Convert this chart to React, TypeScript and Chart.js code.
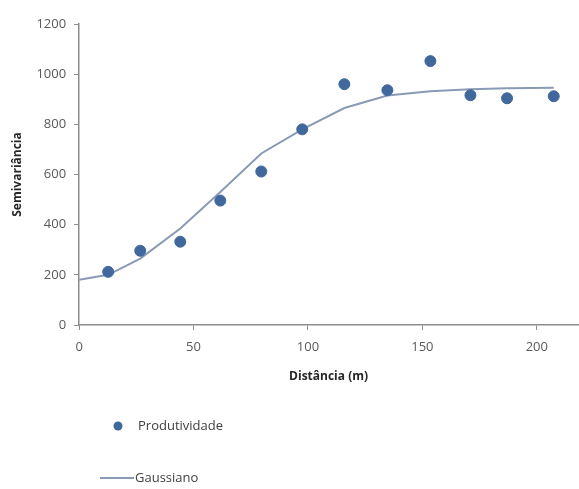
import React, { useEffect, useRef } from "react";
import { Chart, registerables } from "chart.js";

Chart.register(...registerables);

const distances = [12.7, 26.7, 44.2, 61.7, 79.6, 97.5, 115.9, 134.7, 153.5, 171, 187, 207.4];
const produtividade = [212, 296, 332, 496, 612, 780, 960, 936, 1052, 916, 904, 912];
const modelDistances = [0, 12.7, 26.7, 44.2, 61.7, 79.6, 97.5, 115.9, 134.7, 153.5, 171, 187, 207.4];
const gaussiano = [180, 200, 265, 385, 530, 684, 780, 865, 915, 932, 940, 944, 946];
const xTicks = [0, 50, 100, 150, 200];

const FONT = "'Open Sans', 'DejaVu Sans', sans-serif";
const MARKER = "#41689c";
const LINE = "#8a9ab5";

const legendPlugin = {
  id: "bottomLegend",
  afterDraw(chart: any) {
    const ctx = chart.ctx;
    const ds = chart.data.datasets;
    ctx.save();
    ctx.font = `13px ${FONT}`;
    ctx.textBaseline = "middle";
    ctx.beginPath();
    ctx.arc(118, 426, 4.5, 0, Math.PI * 2);
    ctx.fillStyle = ds[0].backgroundColor;
    ctx.fill();
    ctx.fillStyle = "#404040";
    ctx.fillText(ds[0].label, 138, 426);
    ctx.beginPath();
    ctx.moveTo(100, 478);
    ctx.lineTo(134, 478);
    ctx.strokeStyle = ds[1].borderColor;
    ctx.lineWidth = 2;
    ctx.stroke();
    ctx.fillText(ds[1].label, 135, 478);
    ctx.restore();
  },
};

export default function App() {
  const ref = useRef<HTMLCanvasElement>(null);
  useEffect(() => {
    document.body.style.margin = "0";
    const chart = new Chart(ref.current!, {
      type: "scatter",
      data: {
        datasets: [
          {
            label: "Produtividade",
            data: distances.map((x, i) => ({ x, y: produtividade[i] })),
            backgroundColor: MARKER,
            borderColor: MARKER,
            pointRadius: 5.5,
            showLine: false,
          },
          {
            label: "Gaussiano",
            data: modelDistances.map((x, i) => ({ x, y: gaussiano[i] })),
            borderColor: LINE,
            backgroundColor: LINE,
            borderWidth: 2,
            pointRadius: 0,
            showLine: true,
            tension: 0,
          },
        ],
      },
      options: {
        animation: false,
        responsive: false,
        layout: { autoPadding: false, padding: { left: 6, top: 24, right: 1, bottom: 101 } },
        plugins: { legend: { display: false }, tooltip: { enabled: false } },
        scales: {
          x: {
            type: "linear",
            min: 0,
            max: 218,
            afterBuildTicks: (axis: any) => {
              axis.ticks = xTicks.map((v) => ({ value: v }));
            },
            afterFit: (axis: any) => {
              axis.paddingRight = 0;
            },
            grid: { drawOnChartArea: false, drawTicks: true, tickLength: 5, color: "#8c8c8c" },
            border: { color: "#8c8c8c", width: 1.5 },
            ticks: { color: "#595959", font: { family: FONT, size: 13 }, padding: 9, maxRotation: 0 },
            title: {
              display: true,
              text: "Distância (m)",
              color: "#262626",
              font: { family: FONT, size: 12, weight: "bold" },
              padding: { top: 6 },
            },
          },
          y: {
            min: 0,
            max: 1200,
            ticks: {
              stepSize: 200,
              color: "#595959",
              font: { family: FONT, size: 13 },
              padding: 8,
              callback: (v: any) => String(v),
            },
            grid: { drawOnChartArea: false, drawTicks: true, tickLength: 5, color: "#8c8c8c" },
            border: { color: "#8c8c8c", width: 1.5 },
            title: {
              display: true,
              text: "Semivariância",
              color: "#262626",
              font: { family: FONT, size: 12, weight: "bold" },
              padding: { bottom: 4 },
            },
          },
        },
      },
      plugins: [legendPlugin],
    });
    return () => chart.destroy();
  }, []);
  return <canvas ref={ref} width={579} height={489} style={{ display: "block" }} />;
}
